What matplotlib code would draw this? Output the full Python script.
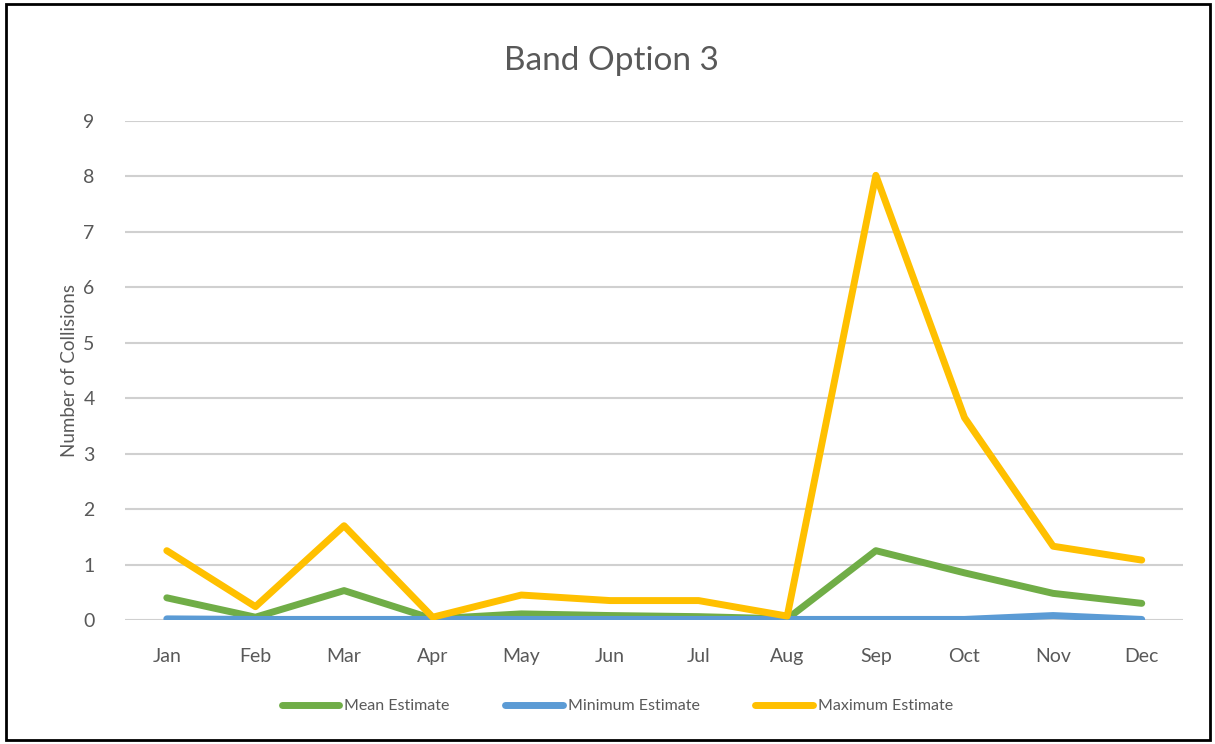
import matplotlib.pyplot as plt
from matplotlib.patches import Rectangle

months = ['Jan', 'Feb', 'Mar', 'Apr', 'May', 'Jun', 'Jul', 'Aug', 'Sep', 'Oct', 'Nov', 'Dec']
mean_est = [0.40, 0.05, 0.53, 0.02, 0.11, 0.08, 0.06, 0.02, 1.25, 0.85, 0.48, 0.30]
min_est = [0.02, 0.01, 0.01, 0.01, 0.01, 0.01, 0.01, 0.01, 0.01, 0.01, 0.08, 0.01]
max_est = [1.25, 0.24, 1.70, 0.05, 0.45, 0.35, 0.35, 0.07, 8.02, 3.65, 1.33, 1.08]

plt.rcParams['font.family'] = ['Lato', 'DejaVu Sans']
grey = '#595959'

fig = plt.figure(figsize=(12.15, 7.44), dpi=100)
ax = fig.add_axes([0.103, 0.1667, 0.871, 0.6707])

x = range(len(months))
l1, = ax.plot(x, mean_est, color='#70AD47', lw=5, solid_capstyle='round', solid_joinstyle='round', label='Mean Estimate')
l2, = ax.plot(x, min_est, color='#5B9BD5', lw=5, solid_capstyle='round', solid_joinstyle='round', label='Minimum Estimate')
l3, = ax.plot(x, max_est, color='#FFC000', lw=5, solid_capstyle='round', solid_joinstyle='round', label='Maximum Estimate')

ax.set_xlim(-0.47, 11.47)
ax.set_ylim(0, 9)
ax.set_yticks(range(10))
ax.set_xticks(list(x))
ax.set_xticklabels(months)
ax.grid(True, axis='y', color='#d0d0d0', lw=1.5)
ax.set_axisbelow(True)
for s in ax.spines.values():
    s.set_visible(False)
ax.tick_params(length=0, labelsize=14, labelcolor=grey)
ax.tick_params(axis='x', pad=20)
ax.tick_params(axis='y', pad=22)
ax.set_ylabel('Number of Collisions', fontsize=13.5, color=grey, labelpad=4)

fig.text(0.503, 0.918, 'Band Option 3', ha='center', va='center', fontsize=24, color=grey)

fig.legend(handles=[l1, l2, l3], loc='center', bbox_to_anchor=(0.508, 0.051), ncol=3,
           frameon=False, fontsize=11.5, handlelength=3.6, columnspacing=3.5,
           handletextpad=0.3, labelcolor=grey)

fig.patches.append(Rectangle((0.005, 0.005), 0.991, 0.989, transform=fig.transFigure,
                             fill=False, edgecolor='black', lw=2))

fig.savefig('out.png', dpi=100)
